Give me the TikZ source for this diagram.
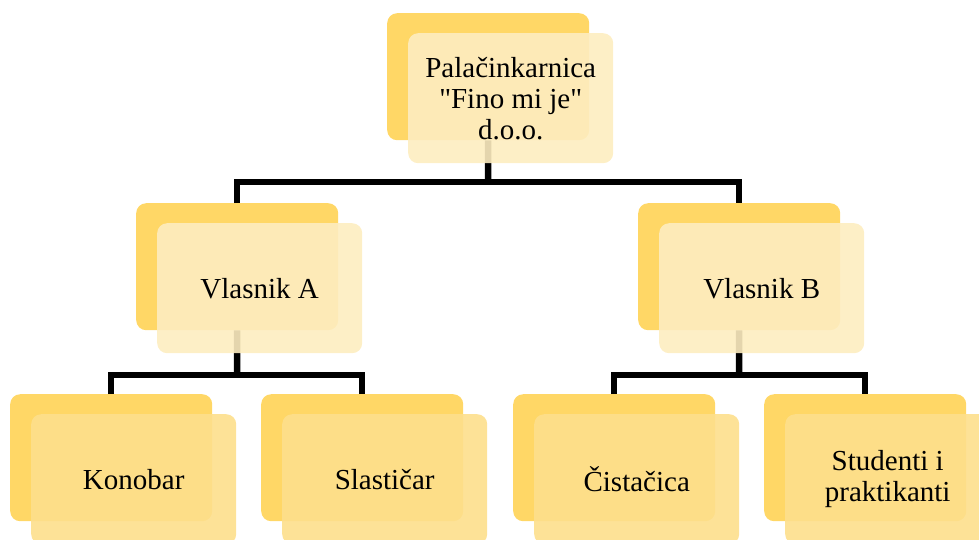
\documentclass[tikz,border=0pt]{standalone}
\usepackage{fontspec}
\setmainfont{Liberation Serif}[Ligatures=TeXOff]
\definecolor{backY}{RGB}{255,215,102}
\definecolor{frontA}{RGB}{253,237,192}
\definecolor{frontB}{RGB}{253,223,140}
\begin{document}
\begin{tikzpicture}[x=1pt,y=-1pt,
 backbox/.style={draw=none, fill=backY, rounded corners=10pt, minimum width=202pt, minimum height=127pt, anchor=north west, inner sep=0pt},
 frontbox/.style={fill=#1, fill opacity=0.9, text opacity=1, rounded corners=10pt, minimum width=205pt, minimum height=130pt, anchor=north west, inner sep=0pt, align=center, font=\fontsize{29}{31}\selectfont},
 conn/.style={line width=6.5pt, black, line join=miter}]
\useasboundingbox (0,0) rectangle (979,539);
% back boxes
\node[backbox] (topB) at (387,13) {};
\node[backbox] (vaB) at (136,203) {};
\node[backbox] (vbB) at (638,203) {};
\node[backbox] (konB) at (10,394) {};
\node[backbox] (slaB) at (261,394) {};
\node[backbox] (cisB) at (513,394) {};
\node[backbox] (stuB) at (764,394) {};
% connectors
\coordinate (h1) at (488,182);
\draw[conn] (topB.south) -- (h1);
\draw[conn] (vaB.north) |- (h1) -| (vbB.north);
\coordinate (h2) at (237,375);
\draw[conn] (vaB.south) -- (h2);
\draw[conn] (konB.north) |- (h2) -| (slaB.north);
\coordinate (h3) at (739,375);
\draw[conn] (vbB.south) -- (h3);
\draw[conn] (cisB.north) |- (h3) -| (stuB.north);
% front boxes
\node[frontbox=frontA] (top) at (408,33) {Palačinkarnica\\"Fino mi je"\\d.o.o.};
\node[frontbox=frontA] (va) at (157,223) {Vlasnik A};
\node[frontbox=frontA] (vb) at (659,223) {Vlasnik B};
\node[frontbox=frontB] (kon) at (31,414) {Konobar};
\node[frontbox=frontB] (sla) at (282,414) {Slastičar};
\node[frontbox=frontB] (cis) at (534,414) {Čistačica};
\node[frontbox=frontB] (stu) at (785,414) {Studenti i\\praktikanti};
\end{tikzpicture}
\end{document}
